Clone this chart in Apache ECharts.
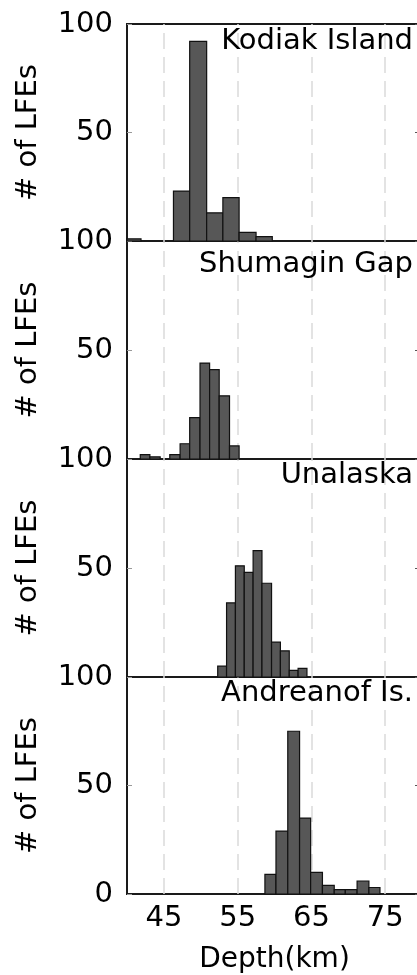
<!DOCTYPE html>
<html><head><meta charset="utf-8">
<script src="https://cdn.jsdelivr.net/npm/echarts@6/dist/echarts.min.js"></script>
<style>html,body{margin:0;padding:0;background:#fff}#c{width:417px;height:975px}</style>
</head><body><div id="c"></div>
<script>
// ---- data ----
const regions = ['Kodiak Island', 'Shumagin Gap', 'Unalaska', 'Andreanof Is.'];
const kodiakEdges    = [37.4, 39.6, 41.9, 44.1, 46.3, 48.5, 50.8, 53.0, 55.2, 57.5, 59.7];
const kodiakCounts   = [1, 1, 0, 0, 23, 92, 13, 20, 4, 2];
const shumaginEdges  = [41.8, 43.1, 44.5, 45.8, 47.2, 48.5, 49.9, 51.2, 52.5, 53.9, 55.2];
const shumaginCounts = [2, 1, 0, 2, 7, 19, 44, 41, 29, 6];
const unalaskaEdges  = [52.3, 53.5, 54.7, 55.9, 57.1, 58.3, 59.6, 60.8, 62.0, 63.2, 64.4];
const unalaskaCounts = [5, 34, 51, 48, 58, 43, 16, 12, 3, 4];
const andreanofEdges = [58.7, 60.2, 61.8, 63.4, 64.9, 66.5, 68.1, 69.6, 71.2, 72.8, 74.3];
const andreanofCounts= [9, 29, 75, 35, 10, 4, 2, 2, 6, 3];
const xTickLabels = [45, 55, 65, 75];
const yTicks = [0, 50, 100];
const xLabel = 'Depth(km)';
const yLabel = '# of LFEs';

const edgesList = [kodiakEdges, shumaginEdges, unalaskaEdges, andreanofEdges];
const countsList = [kodiakCounts, shumaginCounts, unalaskaCounts, andreanofCounts];

// ---- layout ----
const FONT = 'DejaVu Sans';
const gridTops = [24, 241, 459, 677];
const gridH = [217, 218, 218, 217];
const titleTops = [27, 250, 461, 679];

const chart = echarts.init(document.getElementById('c'), null, {renderer: 'canvas'});

const grids = [], xAxes = [], yAxes = [], series = [], titles = [];
for (let i = 0; i < 4; i++) {
  const last = i === 3;
  grids.push({left: 127, width: 295, top: gridTops[i], height: gridH[i], show: true,
    outerBoundsMode: 'none', containLabel: false,
    borderColor: '#1a1a1a', borderWidth: 2, backgroundColor: 'transparent'});
  xAxes.push({type: 'value', gridIndex: i, min: 40, max: 80, interval: 5,
    axisLine: {show: false}, axisTick: {show: false}, splitLine: {show: false},
    axisLabel: {show: last, margin: 10, color: '#000', fontFamily: FONT, fontSize: 29,
      hideOverlap: false, showMaxLabel: true, showMinLabel: true,
      formatter: v => (xTickLabels.indexOf(v) >= 0 ? String(v) : '')},
    name: last ? xLabel : '', nameLocation: 'middle', nameGap: 52,
    nameTextStyle: {color: '#000', fontFamily: FONT, fontSize: 28}});
  yAxes.push({type: 'value', gridIndex: i, min: yTicks[0], max: yTicks[2], interval: 50,
    axisLine: {show: false}, splitLine: {show: false},
    axisTick: {show: true, inside: true, length: 5, lineStyle: {color: '#999'}},
    axisLabel: {margin: 14, color: '#000', fontFamily: FONT, fontSize: 29,
      formatter: v => ((v === 0 && !last) ? '' : String(v))},
    name: yLabel, nameLocation: 'middle', nameGap: 84,
    nameTextStyle: {color: '#000', fontFamily: FONT, fontSize: 29}});
  yAxes.push({type: 'value', gridIndex: i, position: 'right', min: 0, max: 100, interval: 50,
    axisLine: {show: false}, splitLine: {show: false}, axisLabel: {show: false},
    axisTick: {show: true, inside: true, length: 7, lineStyle: {color: '#555'}}});
  titles.push({text: regions[i], right: 4, top: titleTops[i], padding: 0,
    textStyle: {color: '#000', fontFamily: FONT, fontSize: 29, fontWeight: 'normal'}});

  // grid lines behind the bars
  series.push({type: 'line', xAxisIndex: i, yAxisIndex: 2 * i, data: [], z: 1, silent: true,
    markLine: {z: 1, silent: true, symbol: 'none', animation: false, label: {show: false},
      lineStyle: {type: [16, 8], color: '#dadada', width: 1.5},
      data: xTickLabels.map(v => ({xAxis: v}))}});

  const data = [];
  const e = edgesList[i], c = countsList[i];
  for (let k = 0; k < c.length; k++) data.push([e[k], e[k + 1], c[k]]);
  series.push({type: 'custom', xAxisIndex: i, yAxisIndex: 2 * i, z: 10, data: data,
    animation: false,
    renderItem: function (params, api) {
      const v = api.value(2);
      if (!v) return null;
      const p0 = api.coord([api.value(0), 0]);
      const p1 = api.coord([api.value(1), v]);
      const cs = params.coordSys;
      const r = echarts.graphic.clipRectByRect(
        {x: p0[0], y: p1[1], width: p1[0] - p0[0], height: p0[1] - p1[1]},
        {x: cs.x, y: cs.y, width: cs.width, height: cs.height});
      if (!r) return null;
      return {type: 'rect', shape: r, style: {fill: '#575757', stroke: '#111', lineWidth: 1.2}};
    }});
}

chart.setOption({backgroundColor: '#fff', animation: false, title: titles,
  grid: grids, xAxis: xAxes, yAxis: yAxes, series: series});
</script></body></html>
